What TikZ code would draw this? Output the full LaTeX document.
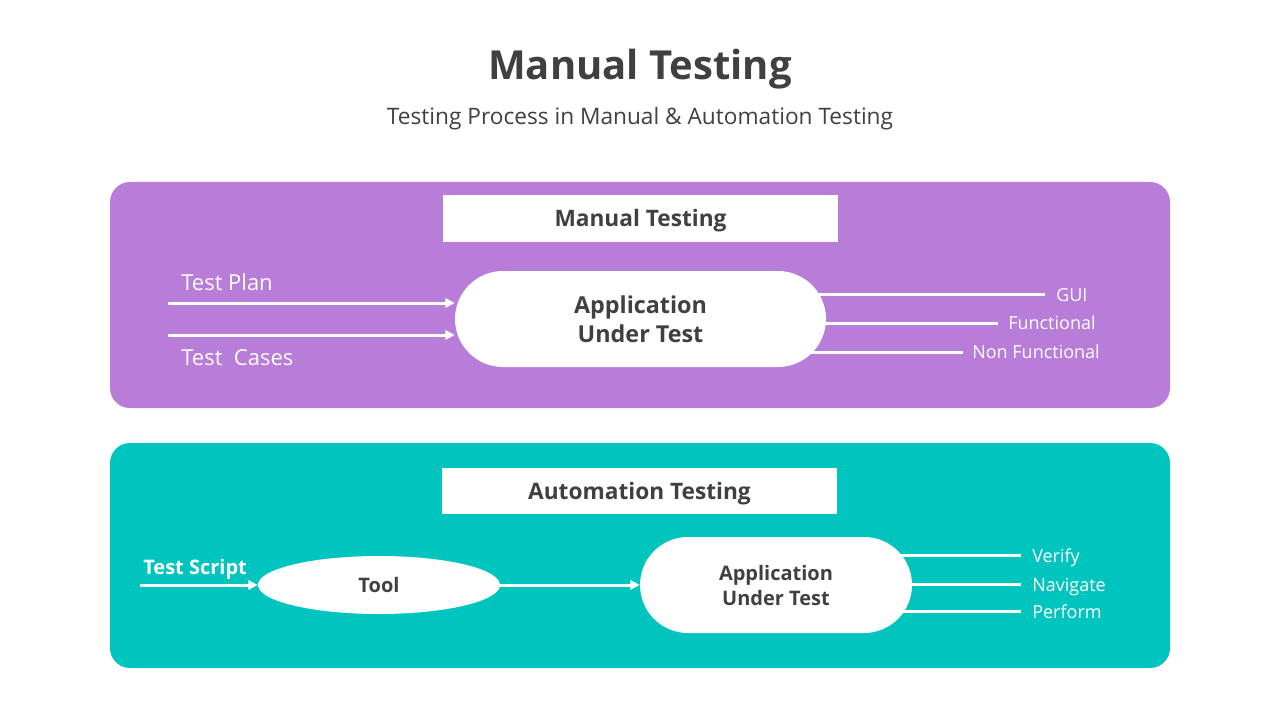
\documentclass[tikz,border=0pt]{standalone}
\usepackage{fontspec}
\setmainfont{Open Sans}
\usetikzlibrary{arrows.meta,shapes.geometric}
\pgfdeclarelayer{back}
\pgfdeclarelayer{mid}
\pgfsetlayers{back,mid,main}
\definecolor{purp}{RGB}{184,124,217}
\definecolor{tealc}{RGB}{0,197,190}
\definecolor{dark}{RGB}{64,64,64}
\begin{document}
\begin{tikzpicture}[x=0.75pt,y=-0.75pt,
  panel/.style={rounded corners=15pt},
  hdr/.style={fill=white, minimum width=296.25pt, minimum height=35pt, inner sep=0pt,
    font=\fontsize{17}{20}\selectfont\bfseries, text=dark, text height=12pt, text depth=0pt},
  aut/.style={fill=white, rounded corners=36pt, minimum height=72pt, inner sep=0pt,
    text=dark, align=center},
  wline/.style={draw=white, line width=2.25pt},
  warrow/.style={wline, -{Triangle[length=7pt,width=7pt]}},
  lab/.style={text=white, inner sep=0pt, anchor=base west},
  outlab/.style={lab, font=\fontsize{13.5}{16}\selectfont},
  inlab/.style={lab, font=\fontsize{16.5}{19}\selectfont}
]
\useasboundingbox (0,0) rectangle (1280,720);

% panels
\begin{pgfonlayer}{back}
\fill[white] (0,0) rectangle (1280,720);
\fill[purp, panel] (110,182) rectangle (1170,408);
\fill[tealc, panel] (110,443) rectangle (1170,668);
\end{pgfonlayer}

% titles
\node[text=dark, anchor=base, font=\fontsize{30}{35}\selectfont\bfseries] (title) at (640,80) {Manual Testing};
\node[text=dark, anchor=base, font=\fontsize{17}{20}\selectfont] (sub) at (640,125) {Testing Process in Manual \& Automation Testing};

% ---------- Manual testing ----------
\node[hdr] (mh) at (640.5,218.5) {Manual Testing};
\node[aut, minimum width=278.25pt, font=\fontsize{17.5}{21.75}\selectfont\bfseries] (app1) at (640.5,319) {Application\\Under Test};

\coordinate (tp) at (168,303);
\coordinate (tc) at (168,335);
\node[inlab] (tpl) at (181,290) {Test Plan};
\node[inlab] (tcl) at (181,365) {Test\ \ Cases};
\draw[warrow] (tp) -- (app1.west |- tp);
\draw[warrow] (tc) -- (app1.west |- tc);

\coordinate (guiE) at (1045,294);
\coordinate (funE) at (998,323);
\coordinate (nfE) at (963,352);
\node[outlab] (guil) at (1056,301) {GUI};
\node[outlab] (funl) at (1008,329.5) {Functional};
\node[outlab] (nfl) at (972,358.5) {Non Functional};
\begin{pgfonlayer}{mid}
\draw[wline] (app1.center |- guiE) -- (guiE);
\draw[wline] (app1.center |- funE) -- (funE);
\draw[wline] (app1.center |- nfE) -- (nfE);
\end{pgfonlayer}

% ---------- Automation testing ----------
\node[hdr, minimum height=34.5pt] (ah) at (639.5,491) {Automation Testing};
\node[ellipse, fill=white, minimum width=181.5pt, minimum height=43.5pt, inner sep=0pt,
  text=dark, font=\fontsize{15}{18}\selectfont\bfseries] (tool) at (379,585) {Tool};
\node[aut, minimum width=204pt, font=\fontsize{15}{18.75}\selectfont\bfseries] (app2) at (776,585) {Application\\Under Test};

\coordinate (ts) at (140,585);
\node[lab, font=\fontsize{15}{18}\selectfont\bfseries] (tsl) at (143,574) {Test Script};
\draw[warrow] (ts) -- (tool.west);
\draw[warrow] (tool.east) -- (app2.west);

\coordinate (verE) at (1021,555);
\coordinate (navE) at (1021,584);
\coordinate (perE) at (1021,611);
\node[outlab] (verl) at (1032,562) {Verify};
\node[outlab] (navl) at (1032,591) {Navigate};
\node[outlab] (perl) at (1032,618) {Perform};
\begin{pgfonlayer}{mid}
\draw[wline] (app2.center |- verE) -- (verE);
\draw[wline] (app2.center |- navE) -- (navE);
\draw[wline] (app2.center |- perE) -- (perE);
\end{pgfonlayer}
\end{tikzpicture}
\end{document}
